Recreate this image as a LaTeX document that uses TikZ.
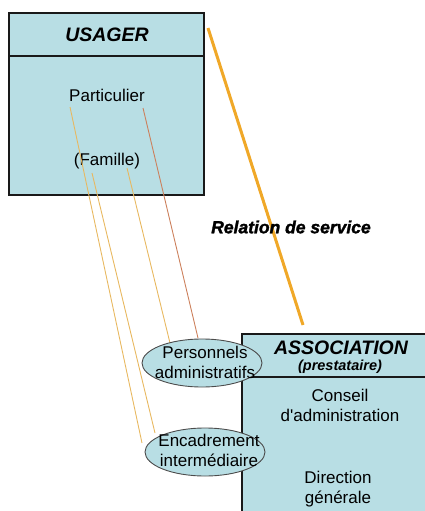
\documentclass[tikz,border=0pt]{standalone}
\usepackage{fontspec}
\setmainfont{Liberation Sans}
\newfontfamily\lourd[FakeBold=1.6]{Liberation Sans}
\usepackage{tikz}
\usetikzlibrary{shapes.geometric}
\definecolor{boxBlue}{RGB}{184,222,228}
\definecolor{servOrange}{RGB}{240,168,40}
\definecolor{lineYellow}{RGB}{232,184,96}
\definecolor{lineBrown}{RGB}{204,128,92}
\tikzstyle{usBox} = [draw=black!90, fill=boxBlue, line width=1.2pt]
\tikzstyle{txt} = [font=\fontsize{17}{20}\selectfont, align=center, inner sep=0pt]
\tikzstyle{titre} = [font=\fontsize{19.5}{22}\selectfont\bfseries\itshape, inner sep=0pt]
\tikzstyle{sousTitre} = [font=\fontsize{14.5}{17}\selectfont\bfseries\itshape, inner sep=0pt]
\tikzstyle{bulle} = [draw=black!70, fill=boxBlue, ellipse, line width=0.9pt,
   minimum width=120pt, minimum height=48pt, inner sep=0pt]
\tikzstyle{lien} = [line width=0.9pt]

\begin{document}
\begin{tikzpicture}[x=1pt,y=-1pt]
  \useasboundingbox (0,0) rectangle (424,511);

  % usager
  \draw[usBox] (9,13) rectangle (204,195);
  \draw[usBox] (9,56) -- (204,56);
  \node[titre] (u) at (107,35) {USAGER};
  \node[txt] (p) at (107,95) {Particulier};
  \node[txt] (f) at (107,161) {(Famille)};

  % thin links
  \coordinate (p1) at (70,107);
  \coordinate (p2) at (143,108);
  \coordinate (f1) at (92,173);
  \coordinate (f2) at (127,168);
  \coordinate (e1) at (142,443);
  \coordinate (e2) at (155,433);
  \coordinate (a1) at (170,343);
  \coordinate (a2) at (198,338);
  \draw[lien, lineYellow] (p1) -- (e1);
  \draw[lien, lineYellow] (f1) -- (e2);
  \draw[lien, lineYellow] (f2) -- (a1);
  \draw[lien, lineBrown] (p2) -- (a2);

  % relation de service
  \coordinate (s1) at (208,28);
  \coordinate (s2) at (303,325);
  \draw[servOrange, line width=3pt] (s1) -- (s2);
  \node[font=\fontsize{17.5}{20}\lourd\bfseries\itshape, inner sep=0pt] (r) at (291,227) {Relation de service};

  % association
  \fill[boxBlue] (242,334) rectangle (430,520);
  \draw[line width=1.2pt, black!90] (430,334) -- (242,334) -- (242,520);
  \draw[line width=1.2pt, black!90] (242,377) -- (430,377);
  \node[titre] (as) at (341,348) {ASSOCIATION};
  \node[sousTitre] (pr) at (340,367) {(prestataire)};
  \node[txt] (c) at (340,405) {Conseil\\d\textquotesingle administration};
  \node[txt] (d) at (338,489) {Direction\\générale};

  % bulles
  \node[bulle] (pa) at (202,363) {};
  \node[txt] (pat) at (205,362) {Personnels\\administratifs};
  \node[bulle] (ei) at (205,452) {};
  \node[txt] (eit) at (209,450) {Encadrement\\intermédiaire};
\end{tikzpicture}
\end{document}
